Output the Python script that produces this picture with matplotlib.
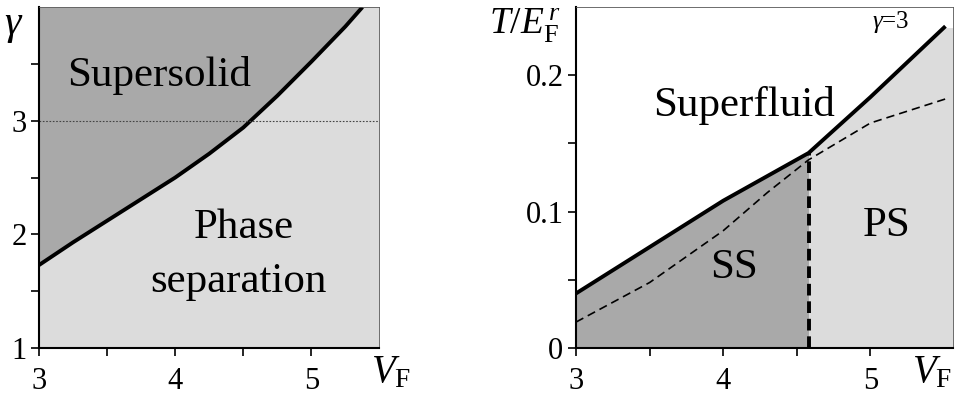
import numpy as np
import matplotlib
matplotlib.use("Agg")
import matplotlib.pyplot as plt
from matplotlib.ticker import FixedLocator

plt.rcParams['font.family'] = ['Liberation Serif', 'DejaVu Serif']
plt.rcParams['mathtext.fontset'] = 'custom'
plt.rcParams['mathtext.rm'] = 'Liberation Serif'
plt.rcParams['mathtext.it'] = 'Liberation Serif:italic'

# left panel: gamma vs V_F boundary
gam_v = [3.0, 3.25, 3.5, 3.75, 4.0, 4.25, 4.5, 4.75, 5.0, 5.25, 5.375]
gam_c = [1.73, 1.93, 2.12, 2.31, 2.50, 2.71, 2.94, 3.22, 3.52, 3.83, 4.0]

# right panel: T/E_F vs V_F at gamma=3
tc_v = [3.0, 3.5, 4.0, 4.58, 5.0, 5.5]
tc_t = [0.040, 0.074, 0.108, 0.143, 0.184, 0.235]
td_v = [3.0, 3.5, 4.0, 4.3, 4.58, 5.0, 5.52]
td_t = [0.019, 0.048, 0.086, 0.114, 0.138, 0.165, 0.183]
v_ss = 4.58

dark = '#a9a9a9'
light = '#dcdcdc'

fig = plt.figure(figsize=(9.59, 3.95), dpi=100)
ax1 = fig.add_axes([0.0407, 0.119, 0.355, 0.863])
ax2 = fig.add_axes([0.6006, 0.119, 0.393, 0.863])

# ---- left panel
ax1.set_xlim(3, 5.5)
ax1.set_ylim(1, 4)
ax1.set_facecolor(light)
ax1.fill_between(gam_v, gam_c, 4, color=dark, lw=0)
ax1.plot(gam_v, gam_c, color='black', lw=2.8, solid_capstyle='butt')
ax1.axhline(3, color='#444444', lw=0.8, ls=(0, (1.5, 1.5)))
ax1.xaxis.set_major_locator(FixedLocator([3, 4, 5]))
ax1.xaxis.set_minor_locator(FixedLocator([3.5, 4.5]))
ax1.yaxis.set_major_locator(FixedLocator([1, 2, 3]))
ax1.yaxis.set_minor_locator(FixedLocator([1.5, 2.5, 3.5]))
ax1.text(0.353, 0.80, 'Supersolid', transform=ax1.transAxes, fontsize=31, ha='center', va='center')
ax1.text(0.603, 0.352, 'Phase', transform=ax1.transAxes, fontsize=31, ha='center', va='center')
ax1.text(0.585, 0.195, 'separation', transform=ax1.transAxes, fontsize=31, ha='center', va='center')

# ---- right panel
ax2.set_xlim(3, 5.56)
ax2.set_ylim(0, 0.25)
xs = np.linspace(3, v_ss, 100)
ax2.fill_between(xs, 0, np.interp(xs, tc_v, tc_t), color=dark, lw=0)
xp = np.linspace(v_ss, 5.56, 100)
ax2.fill_between(xp, 0, np.interp(xp, tc_v, tc_t), color=light, lw=0)
ax2.plot(td_v, td_t, color='black', lw=1.2, ls=(0, (5, 3)))
ax2.plot(tc_v, tc_t, color='black', lw=2.8)
ax2.plot([v_ss, v_ss], [0, np.interp(v_ss, tc_v, tc_t)], color='black', lw=2.8,
         ls=(0, (3, 1.5)))
ax2.xaxis.set_major_locator(FixedLocator([3, 4, 5]))
ax2.xaxis.set_minor_locator(FixedLocator([3.5, 4.5]))
ax2.yaxis.set_major_locator(FixedLocator([0, 0.1, 0.2]))
ax2.yaxis.set_minor_locator(FixedLocator([0.05, 0.15]))
ax2.set_yticklabels(['0', '0.1', '0.2'])
ax2.text(0.445, 0.71, 'Superfluid', transform=ax2.transAxes, fontsize=31, ha='center', va='center')
ax2.text(0.42, 0.235, 'SS', transform=ax2.transAxes, fontsize=31, ha='center', va='center')
ax2.text(0.825, 0.36, 'PS', transform=ax2.transAxes, fontsize=31, ha='center', va='center')
ax2.text(0.835, 0.955, r'$\gamma$=3', transform=ax2.transAxes, fontsize=18, ha='center', va='center')

for ax in (ax1, ax2):
    ax.tick_params(which='both', direction='out', length=6, width=1.2, labelsize=22, pad=3)
    ax.tick_params(axis='x', pad=8)
    for s in ('left', 'bottom'):
        ax.spines[s].set_linewidth(1.5)
    for s in ('top', 'right'):
        ax.spines[s].set_linewidth(0.6)
        ax.spines[s].set_color('#555555')

# axis labels
fig.text(0.004, 0.935, r'$\gamma$', fontsize=30, ha='left', va='center')
fig.text(0.408, 0.055, r'$V_{\mathrm{F}}$', fontsize=28, ha='center', va='center')
fig.text(0.972, 0.055, r'$V_{\mathrm{F}}$', fontsize=28, ha='center', va='center')
fig.text(0.547, 0.935, r'$T/E_{\mathrm{F}}^{\,r}$', fontsize=27, ha='center', va='center')

fig.savefig('out.png', dpi=100)
